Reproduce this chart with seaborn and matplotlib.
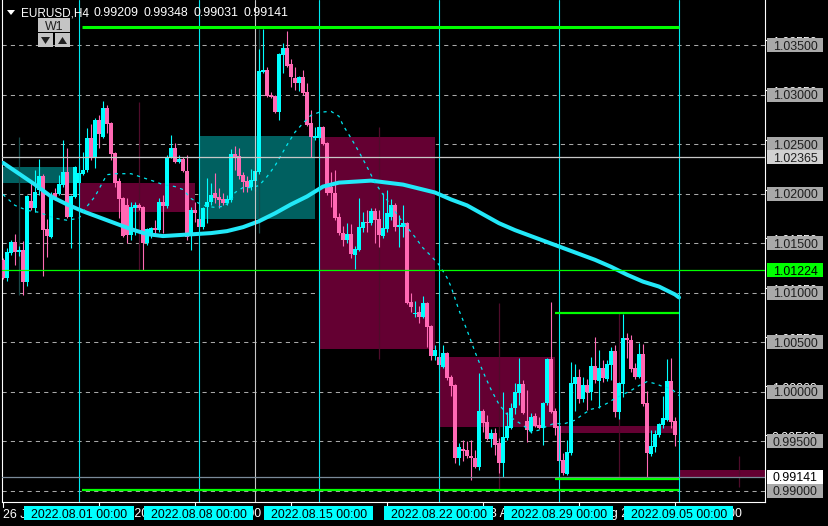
import numpy as np
import pandas as pd
import matplotlib
matplotlib.use("Agg")
import matplotlib.pyplot as plt
import seaborn as sns
from matplotlib.patches import Rectangle, Polygon
from matplotlib.lines import Line2D
from matplotlib.transforms import IdentityTransform

# ---------------- data ----------------
symbol = "EURUSD,H4"
header_ohlc = ["0.99209", "0.99348", "0.99031", "0.99141"]
period_button = "W1"

# H4 candles, first bar = 2022.07.26 20:00
opens = [1.0133, 1.0115, 1.0140, 1.0151, 1.0141, 1.0143, 1.0111, 1.0192, 1.0185, 1.0204,
         1.0218, 1.0164, 1.0156, 1.0201, 1.0199, 1.0209, 1.0222, 1.0176, 1.0196, 1.0211,
         1.0220, 1.0224, 1.0256, 1.0236, 1.0274, 1.0257, 1.0286, 1.0271, 1.0241, 1.0213,
         1.0195, 1.0188, 1.0158, 1.0185, 1.0188, 1.0186, 1.0150, 1.0160, 1.0165, 1.0163,
         1.0191, 1.0187, 1.0237, 1.0246, 1.0232, 1.0235, 1.0223, 1.0160, 1.0183, 1.0174,
         1.0166, 1.0186, 1.0191, 1.0201, 1.0196, 1.0194, 1.0190, 1.0193, 1.0240, 1.0238,
         1.0219, 1.0213, 1.0207, 1.0213, 1.0222, 1.0323, 1.0325, 1.0299, 1.0298, 1.0282,
         1.0340, 1.0347, 1.0331, 1.0317, 1.0312, 1.0318, 1.0303, 1.0271, 1.0256, 1.0256,
         1.0267, 1.0251, 1.0207, 1.0201, 1.0176, 1.0160, 1.0153, 1.0159, 1.0138, 1.0143,
         1.0165, 1.0171, 1.0170, 1.0182, 1.0174, 1.0157, 1.0164, 1.0176, 1.0188, 1.0166,
         1.0166, 1.0170, 1.0090, 1.0078, 1.0080, 1.0075, 1.0089, 1.0066, 1.0036, 1.0035,
         1.0025, 1.0039, 1.0015, 1.0007, 0.9933, 0.9942, 0.9941, 0.9935, 0.9933, 0.9924,
         0.9980, 0.9969, 0.9952, 0.9958, 0.9948, 0.9928, 0.9953, 0.9963, 0.9983, 0.9998,
         1.0008, 0.9970, 0.9960, 0.9975, 0.9966, 0.9963, 0.9988, 1.0033, 0.9980, 0.9965,
         0.9931, 0.9917, 0.9938, 1.0008, 1.0015, 0.9992, 1.0007, 0.9999, 1.0026, 1.0011,
         1.0024, 1.0013, 1.0027, 1.0041, 0.9979, 1.0008, 1.0054, 1.0052, 1.0024, 1.0015,
         1.0038, 0.9988, 0.9937, 0.9944, 0.9956, 0.9966, 0.9971, 1.0011, 0.9970]
highs = [1.0135, 1.0145, 1.0153, 1.0159, 1.0147, 1.0152, 1.0198, 1.0212, 1.0224, 1.0235,
         1.0220, 1.0174, 1.0202, 1.0206, 1.0219, 1.0254, 1.0246, 1.0198, 1.0228, 1.0229,
         1.0242, 1.0266, 1.0270, 1.0276, 1.0279, 1.0293, 1.0289, 1.0272, 1.0242, 1.0216,
         1.0196, 1.0195, 1.0191, 1.0191, 1.0190, 1.0187, 1.0165, 1.0166, 1.0173, 1.0195,
         1.0198, 1.0239, 1.0259, 1.0251, 1.0239, 1.0237, 1.0239, 1.0186, 1.0191, 1.0186,
         1.0186, 1.0216, 1.0211, 1.0221, 1.0206, 1.0201, 1.0198, 1.0245, 1.0248, 1.0246,
         1.0222, 1.0218, 1.0225, 1.0236, 1.0346, 1.0366, 1.0328, 1.0303, 1.0299, 1.0342,
         1.0352, 1.0364, 1.0336, 1.0328, 1.0319, 1.0325, 1.0312, 1.0284, 1.0267, 1.0268,
         1.0268, 1.0252, 1.0222, 1.0224, 1.0180, 1.0167, 1.0170, 1.0169, 1.0147, 1.0195,
         1.0181, 1.0183, 1.0185, 1.0185, 1.0183, 1.0201, 1.0204, 1.0194, 1.0190, 1.0178,
         1.0188, 1.0171, 1.0099, 1.0091, 1.0086, 1.0096, 1.0090, 1.0067, 1.0047, 1.0040,
         1.0047, 1.0040, 1.0017, 1.0008, 0.9948, 0.9951, 0.9950, 0.9951, 0.9941, 1.0019,
         0.9982, 0.9976, 0.9962, 0.9963, 0.9953, 0.9999, 0.9979, 0.9988, 1.0009, 1.0034,
         1.0012, 1.0002, 0.9978, 0.9978, 0.9974, 0.9989, 1.0034, 1.0090, 0.9983, 0.9968,
         0.9938, 0.9951, 1.0030, 1.0028, 1.0023, 1.0015, 1.0013, 1.0035, 1.0055, 1.0042,
         1.0032, 1.0032, 1.0045, 1.0047, 1.0010, 1.0078, 1.0059, 1.0057, 1.0029, 1.0049,
         1.0048, 1.0001, 0.9961, 0.9961, 0.9968, 0.9995, 1.0033, 1.0034, 0.9974]
lows = [1.0114, 1.0112, 1.0138, 1.0128, 1.0137, 1.0097, 1.0107, 1.0183, 1.0181, 1.0198,
        1.0117, 1.0136, 1.0155, 1.0193, 1.0198, 1.0207, 1.0175, 1.0145, 1.0195, 1.0209,
        1.0219, 1.0222, 1.0234, 1.0226, 1.0246, 1.0256, 1.0261, 1.0234, 1.0207, 1.0175,
        1.0156, 1.0150, 1.0153, 1.0158, 1.0183, 1.0123, 1.0148, 1.0155, 1.0158, 1.0161,
        1.0160, 1.0185, 1.0236, 1.0231, 1.0231, 1.0222, 1.0153, 1.0143, 1.0171, 1.0165,
        1.0164, 1.0170, 1.0188, 1.0190, 1.0185, 1.0188, 1.0188, 1.0191, 1.0224, 1.0215,
        1.0202, 1.0202, 1.0204, 1.0203, 1.0220, 1.0322, 1.0297, 1.0296, 1.0281, 1.0274,
        1.0322, 1.0328, 1.0308, 1.0305, 1.0304, 1.0299, 1.0268, 1.0237, 1.0254, 1.0254,
        1.0249, 1.0198, 1.0186, 1.0173, 1.0158, 1.0147, 1.0150, 1.0135, 1.0124, 1.0142,
        1.0161, 1.0161, 1.0168, 1.0150, 1.0146, 1.0155, 1.0161, 1.0173, 1.0162, 1.0146,
        1.0156, 1.0088, 1.0080, 1.0075, 1.0069, 1.0074, 1.0045, 1.0032, 1.0032, 1.0024,
        1.0024, 1.0012, 0.9995, 0.9928, 0.9926, 0.9930, 0.9933, 0.9911, 0.9923, 0.9921,
        0.9959, 0.9951, 0.9944, 0.9936, 0.9918, 0.9914, 0.9951, 0.9962, 0.9977, 0.9986,
        0.9977, 0.9949, 0.9958, 0.9964, 0.9962, 0.9946, 0.9986, 0.9978, 0.9956, 0.9929,
        0.9916, 0.9916, 0.9936, 0.9980, 0.9988, 0.9989, 0.9981, 0.9991, 1.0009, 0.9983,
        1.0010, 1.0011, 1.0012, 0.9974, 0.9972, 0.9994, 1.0034, 1.0020, 1.0013, 1.0014,
        0.9985, 0.9914, 0.9935, 0.9939, 0.9954, 0.9963, 0.9970, 0.9963, 0.9945]
closes = [1.0115, 1.0141, 1.0151, 1.0141, 1.0143, 1.0111, 1.0197, 1.0185, 1.0202, 1.0218,
          1.0163, 1.0157, 1.0197, 1.0196, 1.0210, 1.0222, 1.0176, 1.0197, 1.0227, 1.0221,
          1.0224, 1.0256, 1.0236, 1.0274, 1.0260, 1.0286, 1.0270, 1.0240, 1.0211, 1.0194,
          1.0157, 1.0158, 1.0186, 1.0188, 1.0185, 1.0150, 1.0164, 1.0165, 1.0163, 1.0191,
          1.0187, 1.0236, 1.0246, 1.0232, 1.0235, 1.0223, 1.0156, 1.0183, 1.0180, 1.0166,
          1.0185, 1.0191, 1.0198, 1.0195, 1.0193, 1.0190, 1.0194, 1.0240, 1.0237, 1.0218,
          1.0212, 1.0207, 1.0214, 1.0223, 1.0324, 1.0325, 1.0298, 1.0297, 1.0282, 1.0341,
          1.0347, 1.0329, 1.0318, 1.0312, 1.0318, 1.0302, 1.0269, 1.0257, 1.0258, 1.0267,
          1.0250, 1.0201, 1.0201, 1.0175, 1.0160, 1.0153, 1.0159, 1.0139, 1.0144, 1.0166,
          1.0171, 1.0170, 1.0182, 1.0173, 1.0158, 1.0165, 1.0180, 1.0188, 1.0166, 1.0168,
          1.0170, 1.0089, 1.0085, 1.0079, 1.0075, 1.0089, 1.0065, 1.0036, 1.0042, 1.0027,
          1.0039, 1.0014, 1.0006, 0.9933, 0.9944, 0.9940, 0.9935, 0.9933, 0.9924, 0.9980,
          0.9968, 0.9952, 0.9958, 0.9946, 0.9928, 0.9954, 0.9965, 0.9983, 0.9999, 1.0008,
          0.9978, 0.9961, 0.9974, 0.9965, 0.9963, 0.9988, 1.0033, 0.9979, 0.9963, 0.9930,
          0.9918, 0.9939, 1.0009, 1.0015, 0.9992, 1.0007, 0.9999, 1.0026, 1.0012, 1.0024,
          1.0014, 1.0028, 1.0041, 0.9979, 1.0009, 1.0054, 1.0052, 1.0023, 1.0015, 1.0038,
          0.9987, 0.9938, 0.9945, 0.9957, 0.9967, 0.9973, 1.0011, 0.9969, 0.9956]

# weekly (W1) overlay candles
week_dates = ["2022-07-25", "2022-08-01", "2022-08-08", "2022-08-15", "2022-08-22", "2022-08-29", "2022-09-05"]
w_open = [1.0211, 1.0211, 1.0174, 1.0257, 1.0035, 0.9965, 0.99209]
w_high = [1.0257, 1.0292, 1.0366, 1.0267, 1.0089, 1.0079, 0.99348]
w_low = [1.0097, 1.0123, 1.0160, 1.0033, 0.9902, 0.9913, 0.99031]
w_close = [1.0227, 1.0181, 1.0258, 1.0043, 0.9964, 0.9958, 0.99141]

# moving averages (bar index, value)
slow_ma_bar = [0, 4, 8, 12, 16, 20, 24, 28, 32, 36, 40, 44, 48, 52, 56, 60, 64, 68, 72, 76, 80, 84,
               88, 92, 96, 100, 104, 108, 112, 116, 120, 124, 128, 132, 136, 140, 144, 148, 152,
               156, 160, 164, 168, 169]
slow_ma_val = [1.0231, 1.0220, 1.0209, 1.0197, 1.0189, 1.0182, 1.0176, 1.0170, 1.0164, 1.0159, 1.0157,
               1.0158, 1.0159, 1.0160, 1.0162, 1.0166, 1.0172, 1.0180, 1.0189, 1.0197, 1.0207, 1.0211,
               1.0212, 1.0213, 1.0211, 1.0209, 1.0205, 1.0201, 1.0194, 1.0188, 1.0179, 1.0170, 1.0163,
               1.0157, 1.0151, 1.0145, 1.0139, 1.0133, 1.0126, 1.0118, 1.0111, 1.0106, 1.0098, 1.0095]
fast_ma_bar = [0, 3, 6, 9, 13, 16, 19, 21, 23, 25, 26, 28, 32, 35, 38, 40, 43, 45, 47, 49, 51, 53, 55,
               57, 58, 60, 62, 64, 66, 68, 70, 71, 73, 75, 77, 79, 82, 84, 85, 87, 89, 91, 93, 95, 97,
               99, 101, 103, 105, 107, 109, 111, 112, 114, 116, 118, 120, 122, 124, 126, 128, 130, 132,
               134, 136, 138, 140, 143, 145, 147, 149, 151, 153, 155, 157, 159, 161, 163, 165, 167, 169]
fast_ma_val = [1.0199, 1.0188, 1.0183, 1.0181, 1.0175, 1.0173, 1.0175, 1.0187, 1.0197, 1.0212, 1.0219,
               1.0220, 1.0220, 1.0216, 1.0212, 1.0209, 1.0207, 1.0204, 1.0195, 1.0190, 1.0187, 1.0186,
               1.0187, 1.0192, 1.0201, 1.0206, 1.0206, 1.0208, 1.0217, 1.0228, 1.0242, 1.0249, 1.0262,
               1.0271, 1.0279, 1.0282, 1.0283, 1.0278, 1.0269, 1.0256, 1.0242, 1.0227, 1.0211, 1.0199,
               1.0188, 1.0176, 1.0166, 1.0156, 1.0145, 1.0137, 1.0128, 1.0115, 1.0106, 1.0082, 1.0062,
               1.0040, 1.0020, 1.0002, 0.9987, 0.9977, 0.9971, 0.9966, 0.9959, 0.9961, 0.9965, 0.9968,
               0.9967, 0.9971, 0.9977, 0.9982, 0.9984, 0.9988, 0.9993, 0.9997, 1.0001, 1.0006, 1.0010,
               1.0008, 1.0005, 1.0003, 0.9996]

# horizontal objects
level_top = 1.03679
level_bottom = 0.99010
range_high = 1.00793
range_low = 0.99116
level_green = 1.01224
level_silver = 1.02365
bid_price = 0.99141
grid_levels = [0.990, 0.995, 1.000, 1.005, 1.010, 1.015, 1.020, 1.025, 1.030, 1.035]
scale_levels = [1.03550, 1.03050, 1.02540, 1.02040, 1.01550, 1.01050, 1.00550, 1.00060, 0.99560]

# ---------------- style ----------------
sns.set_style("dark")
plt.rcParams["font.family"] = ["Liberation Sans", "DejaVu Sans"]

BULL = "#00ffff"
BEAR = "#ff69b4"
W_BULL = "#006060"
W_BEAR = "#640032"
W_BULL_WICK = "#174a4a"
W_BEAR_WICK = "#4e0c2a"
LIME = "#00ff00"
FS = 8.9

W, H = 829, 526
fig = plt.figure(figsize=(W / 100, H / 100), dpi=100, facecolor="black")
ax = fig.add_axes([2 / W, (H - 502) / H, 763 / W, 502 / H])
ax.set_facecolor("black")
ax.set_xlim(-0.25, 190.5)
ax.set_ylim(0.9888384, 1.0395455)
ax.set_xticks([])
ax.set_yticks([])
for s in ax.spines.values():
    s.set_color("white")
    s.set_linewidth(0.8)
ax.spines["top"].set_visible(False)

o = np.array(opens); h = np.array(highs); l = np.array(lows); c = np.array(closes)
xb = np.arange(len(o))
bull = c >= o

# time index of bars
times = pd.date_range("2022-07-25", "2022-09-10", freq="4h")
times = times[times.dayofweek < 5]
times = times[times >= pd.Timestamp("2022-07-26 20:00")][: len(o) + 40]

# grid
for g in grid_levels:
    ax.axhline(g, color="#a8a8a8", lw=0.75, ls=(0, (4, 4)), zorder=1)

# weekly overlay
monday_idx = int(np.where(times == pd.Timestamp("2022-08-01"))[0][0])
for k, d in enumerate(week_dates):
    start = monday_idx + 30 * (k - 1)
    wo, wh, wl, wc = w_open[k], w_high[k], w_low[k], w_close[k]
    up = wc >= wo
    ax.add_patch(Rectangle((start, min(wo, wc)), 29, abs(wc - wo),
                           facecolor=W_BULL if up else W_BEAR, edgecolor="none", zorder=2))
    ax.vlines(start + 15, wl, wh, color=W_BULL_WICK if up else W_BEAR_WICK, lw=0.9, zorder=2.5)

# candles
cols = np.where(bull, BULL, BEAR)
ax.vlines(xb, l, h, colors=cols, lw=0.8, zorder=4)
body_lo = np.minimum(o, c)
body_h = np.maximum(np.abs(c - o), 0.00011)
ax.bar(xb, body_h, bottom=body_lo, width=0.78, color=cols, linewidth=0, zorder=5)

# moving averages
sns.lineplot(x=slow_ma_bar, y=slow_ma_val, ax=ax, color="#22e8f8", lw=2.9, zorder=6)
sns.lineplot(x=fast_ma_bar, y=fast_ma_val, ax=ax, color="#00e8f0", lw=0.9,
             linestyle=(0, (2.5, 3.5)), zorder=6)

# objects: vertical lines
mondays = [monday_idx + 30 * k for k in range(6)]
for m in mondays:
    ax.axvline(m, color="#00e8f0", lw=0.8, zorder=7)
white_idx = int(np.where(times == pd.Timestamp("2022-08-10 08:00"))[0][0])
ax.axvline(white_idx, color="#c8c8c8", lw=0.8, zorder=7)

# objects: horizontal lines
ax.axhline(level_green, color=LIME, lw=0.9, zorder=7)
ax.axhline(level_silver, color="#c8c8c8", lw=0.9, zorder=7)
ax.axhline(bid_price, color="#7a8a99", lw=0.9, zorder=7)
ax.hlines(level_top, monday_idx + 0.75, mondays[-1], color=LIME, lw=2.2, zorder=7)
ax.hlines(level_bottom, monday_idx + 0.75, mondays[-1], color=LIME, lw=1.6, zorder=7)
ax.hlines([range_high, range_low], mondays[-2] - 1, mondays[-1], color=LIME, lw=1.6, zorder=7)

# ---------------- overlay texts in pixel space ----------------
IT = IdentityTransform()
fig.canvas.draw()


def img_y(p):
    return H - ax.transData.transform((0, p))[1]


def img_x(b):
    return ax.transData.transform((b, 0))[0]


def box(x0, y0, w, h, fc, z):
    r = Rectangle((x0, H - y0 - h), w, h, transform=IT, facecolor=fc, edgecolor="none", zorder=z)
    fig.add_artist(r)


def txt(x, y, s, color, ha="left", size=FS, z=12):
    fig.add_artist(plt.Text(x, H - y, s, color=color, ha=ha, va="center_baseline", fontsize=size,
                            transform=IT, zorder=z, family=["Liberation Sans", "DejaVu Sans"]))


# right scale: hidden scale labels + ticks
for p in scale_levels:
    yy = img_y(p)
    txt(772, yy + 1.5, f"{p:.5f}", "white", z=10)
    fig.add_artist(Line2D([765, 769], [H - yy, H - yy], color="white", lw=0.8, transform=IT, zorder=10))

for g in grid_levels:
    yy = img_y(g)
    box(767, yy - 7, 56, 14, "#a9a9a9", 11)
    txt(795, yy, f"{g:.5f}", "#1e1e1e", ha="center")

for p, fc, tc in [(level_silver, "#d2d2d2", "#1e1e1e"), (level_green, LIME, "black"), (bid_price, "white", "black")]:
    yy = img_y(p)
    box(767, yy - 7, 56, 14, fc, 11)
    txt(795, yy, f"{p:.5f}", tc, ha="center")

# bottom time scale
for k in range(8):
    b = 24 * k
    xx = img_x(b)
    fig.add_artist(Line2D([xx, xx], [H - 502, H - 507], color="white", lw=0.8, transform=IT, zorder=10))
    t = times[b]
    lab = t.strftime("%d %b %Y").lstrip("0") if k == 0 else f"{t.day} {t.strftime('%b %H:%M')}"
    txt(xx, 513, lab, "white", z=10)

for m in mondays:
    xx = img_x(m)
    box(xx - 54.5, 506, 109, 14, "#00ffff", 11)
    txt(xx, 513, times[m].strftime("%Y.%m.%d %H:%M"), "black", ha="center")

# header
fig.add_artist(Polygon([[7, H - 10], [15, H - 10], [11, H - 15]], closed=True, transform=IT,
                       facecolor="white", edgecolor="none", zorder=12))
txt(21, 12, symbol, "white", size=8.5)
for xx, s in zip([94, 143, 194, 243], header_ohlc):
    txt(xx, 12, s, "white")

# W1 button and arrows
box(38, 18, 32, 14, "#c4c4c4", 11)
txt(54, 25, period_button, "#202020", ha="center")
box(38, 33, 15, 14, "#c4c4c4", 11)
box(55, 33, 15, 14, "#c4c4c4", 11)
fig.add_artist(Polygon([[41, H - 37], [50, H - 37], [45.5, H - 44]], closed=True, transform=IT,
                       facecolor="#202020", edgecolor="none", zorder=12))
fig.add_artist(Polygon([[58, H - 44], [67, H - 44], [62.5, H - 37]], closed=True, transform=IT,
                       facecolor="#202020", edgecolor="none", zorder=12))

fig.savefig("out.png", dpi=100, facecolor="black")
